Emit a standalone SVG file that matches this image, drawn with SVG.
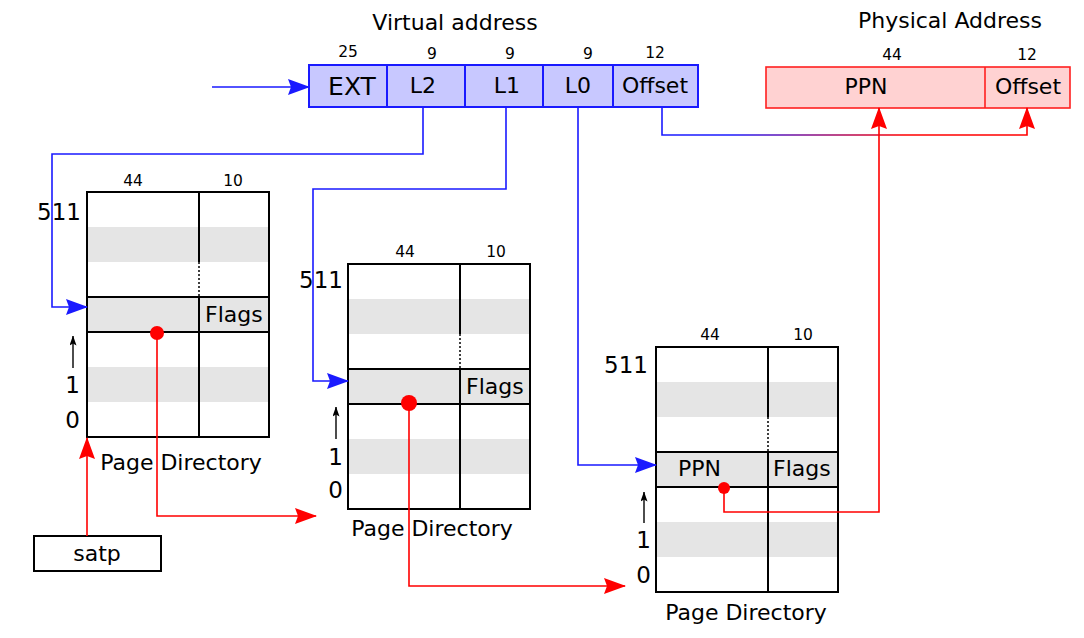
<svg xmlns="http://www.w3.org/2000/svg" width="1084" height="638" viewBox="0 0 1084 638">
<defs>
<style>
text{font-family:"DejaVu Sans","Liberation Sans",sans-serif;fill:#000}
.big{font-size:22px}
.sm{font-size:15.5px}
.idx{font-size:23px}
.mid{text-anchor:middle}
.end{text-anchor:end}
.tbl{fill:none;stroke:#000;stroke-width:2}
.band{fill:#e5e5e5}
.blue{fill:none;stroke:#1a1aff;stroke-width:1.6}
.red{fill:none;stroke:#ff0000;stroke-width:1.6}
.thin{fill:none;stroke:#000;stroke-width:1.4}
.va{fill:#c8c8ff;stroke:#1a1aff;stroke-width:2}
.pa{fill:#ffd2d2;stroke:#ff2020;stroke-width:1.6}
</style>
<marker id="ab" viewBox="0 0 22 16" markerWidth="22" markerHeight="16" refX="21" refY="8" markerUnits="userSpaceOnUse" orient="auto"><path d="M0,0 L22,8 L0,16 L3,8 Z" fill="#1a1aff"/></marker>
<marker id="ar" viewBox="0 0 22 16" markerWidth="22" markerHeight="16" refX="21" refY="8" markerUnits="userSpaceOnUse" orient="auto"><path d="M0,0 L22,8 L0,16 L3,8 Z" fill="#ff0000"/></marker>
<marker id="ak" viewBox="0 0 10 7" markerWidth="10" markerHeight="7" refX="9.5" refY="3.5" markerUnits="userSpaceOnUse" orient="auto"><path d="M0,0 L10,3.5 L0,7 L2,3.5 Z" fill="#000"/></marker>
<linearGradient id="g" gradientUnits="userSpaceOnUse" x1="730" y1="0" x2="905" y2="0"><stop offset="0" stop-color="#1a1aff"/><stop offset="1" stop-color="#ff0000"/></linearGradient>
</defs>
<rect width="1084" height="638" fill="#fff"/>

<g id="virtual-address">
<text class="big mid" x="455" y="30">Virtual address</text>
<rect class="va" x="309" y="65" width="389" height="42"/>
<path d="M387,65V107M465,65V107M543,65V107M613,65V107" stroke="#1a1aff" stroke-width="2"/>
<text class="sm mid" x="348" y="57">25</text>
<text class="sm mid" x="432" y="59">9</text>
<text class="sm mid" x="510" y="59">9</text>
<text class="sm mid" x="588" y="59">9</text>
<text class="sm mid" x="655" y="58">12</text>
<text class="mid" x="352" y="95" style="font-size:25px">EXT</text>
<text class="big mid" x="423" y="93">L2</text>
<text class="big mid" x="507" y="93">L1</text>
<text class="big mid" x="578" y="93">L0</text>
<text class="big mid" x="655" y="93">Offset</text>
</g>

<g id="physical-address">
<text class="big mid" x="950" y="28">Physical Address</text>
<rect class="pa" x="766" y="67" width="304" height="41"/>
<path d="M985,67V108" stroke="#ff2020" stroke-width="1.6"/>
<text class="sm mid" x="892" y="60">44</text>
<text class="sm mid" x="1027" y="60">12</text>
<text class="big mid" x="866" y="94">PPN</text>
<text class="big mid" x="1028" y="94">Offset</text>
</g>

<g id="page-directory-1" transform="translate(87,192)">
<rect class="band" x="0" y="35" width="182" height="35"/>
<rect class="band" x="0" y="105" width="182" height="35"/>
<rect class="band" x="0" y="175" width="182" height="35"/>
<rect class="tbl" x="0" y="0" width="182" height="245"/>
<path class="tbl" d="M0,105H182M0,140H182M112,0V70M112,105V245"/>
<path d="M112,70V105" stroke="#000" stroke-width="1.5" stroke-dasharray="2,2"/>
<text class="sm mid" x="46" y="-6">44</text>
<text class="sm mid" x="146" y="-6">10</text>
<text class="idx end" x="-6" y="28">511</text>
<text class="big" x="118" y="130">Flags</text>
<path class="thin" d="M-14,176V144" marker-end="url(#ak)"/>
<text class="idx end" x="-7" y="201">1</text>
<text class="idx end" x="-7" y="236">0</text>
<text class="big mid" x="94" y="278">Page Directory</text>
</g>

<g id="page-directory-2" transform="translate(348,264)">
<rect class="band" x="0" y="35" width="182" height="35"/>
<rect class="band" x="0" y="105" width="182" height="35"/>
<rect class="band" x="0" y="175" width="182" height="35"/>
<rect class="tbl" x="0" y="0" width="182" height="245"/>
<path class="tbl" d="M0,105H182M0,140H182M112,0V70M112,105V245"/>
<path d="M112,70V105" stroke="#000" stroke-width="1.5" stroke-dasharray="2,2"/>
<text class="sm mid" x="57" y="-7">44</text>
<text class="sm mid" x="148" y="-7">10</text>
<text class="idx end" x="-5" y="24">511</text>
<text class="big" x="118" y="130">Flags</text>
<path class="thin" d="M-12,175V143" marker-end="url(#ak)"/>
<text class="idx end" x="-5" y="201">1</text>
<text class="idx end" x="-5" y="234">0</text>
<text class="big mid" x="84" y="272">Page Directory</text>
</g>

<g id="page-directory-3" transform="translate(656,347)">
<rect class="band" x="0" y="35" width="182" height="35"/>
<rect class="band" x="0" y="105" width="182" height="35"/>
<rect class="band" x="0" y="175" width="182" height="35"/>
<rect class="tbl" x="0" y="0" width="182" height="245"/>
<path class="tbl" d="M0,105H182M0,140H182M112,0V70M112,105V245"/>
<path d="M112,70V105" stroke="#000" stroke-width="1.5" stroke-dasharray="2,2"/>
<text class="sm mid" x="54" y="-7">44</text>
<text class="sm mid" x="147" y="-7">10</text>
<text class="idx end" x="-8" y="26">511</text>
<text class="big" x="22" y="129">PPN</text>
<text class="big" x="117" y="129">Flags</text>
<path class="thin" d="M-12,176V145" marker-end="url(#ak)"/>
<text class="idx end" x="-5" y="201">1</text>
<text class="idx end" x="-5" y="236">0</text>
<text class="big mid" x="90" y="273">Page Directory</text>
</g>

<g id="satp">
<rect class="tbl" x="34" y="536" width="127" height="35"/>
<text class="big mid" x="97" y="561">satp</text>
</g>

<g id="connectors">
<path class="blue" d="M212,87H309" marker-end="url(#ab)"/>
<path class="blue" d="M423,107V154H52V307H87" marker-end="url(#ab)"/>
<path class="blue" d="M506,107V189H313V381H348" marker-end="url(#ab)"/>
<path class="blue" d="M578,107V465H656" marker-end="url(#ab)"/>
<path d="M662,107V135H1027V108" fill="none" stroke="url(#g)" stroke-width="1.6" marker-end="url(#ar)"/>
<path class="red" d="M87,536V438" marker-end="url(#ar)"/>
<path class="red" d="M157,333V516H316" marker-end="url(#ar)"/>
<path class="red" d="M409,403V586H625" marker-end="url(#ar)"/>
<path class="red" d="M724,488V512H879V108" marker-end="url(#ar)"/>
<circle cx="157" cy="333" r="7" fill="#ff0000"/>
<circle cx="409" cy="403" r="8" fill="#ff0000"/>
<circle cx="724" cy="488" r="6" fill="#ff0000"/>
</g>
</svg>
